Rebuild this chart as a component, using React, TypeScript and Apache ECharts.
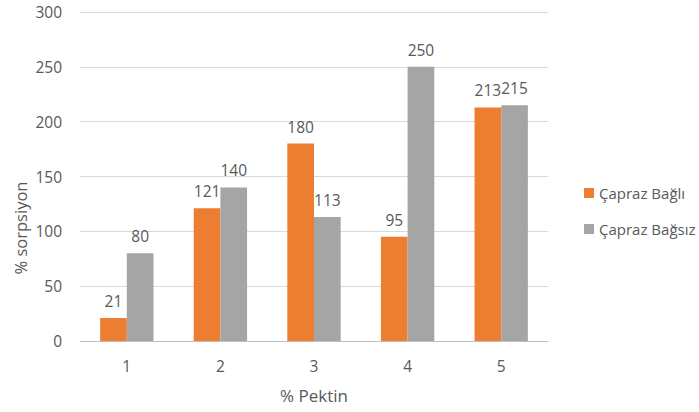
import React, { useEffect, useRef } from "react";
import * as echarts from "echarts";

const categories = ["1", "2", "3", "4", "5"];
const bagli = [21, 121, 180, 95, 213];
const bagsiz = [80, 140, 113, 250, 215];
const seriesNames = ["Çapraz Bağlı", "Çapraz Bağsız"];

const FONT = "'Open Sans', 'Noto Sans', sans-serif";
const TEXT = "#595959";

export default function App() {
  const ref = useRef<HTMLDivElement>(null);

  useEffect(() => {
    if (!ref.current) return;
    const chart = echarts.init(ref.current, undefined, { renderer: "svg" });
    const barLabel = {
      show: true,
      position: "top",
      distance: 9,
      color: TEXT,
      fontSize: 15.5,
      fontFamily: FONT,
    };
    chart.setOption({
      animation: false,
      backgroundColor: "#ffffff",
      textStyle: { fontFamily: FONT },
      grid: { left: 80, right: 151, top: 12, bottom: 71, containLabel: false },
      legend: {
        orient: "vertical",
        left: 579,
        top: 179,
        itemWidth: 10,
        itemHeight: 10,
        itemGap: 18,
        icon: "rect",
        textStyle: { color: TEXT, fontSize: 15, fontFamily: FONT, lineHeight: 18 },
        data: seriesNames,
      },
      xAxis: {
        type: "category",
        data: categories,
        axisLine: { lineStyle: { color: "#BFBFBF", width: 1 } },
        axisTick: { show: false },
        axisLabel: { color: TEXT, fontSize: 15.5, margin: 17, fontFamily: FONT },
      },
      yAxis: {
        type: "value",
        min: 0,
        max: 300,
        interval: 50,
        axisLine: { show: false },
        axisTick: { show: false },
        axisLabel: { color: TEXT, fontSize: 15.5, margin: 18, fontFamily: FONT },
        splitLine: { lineStyle: { color: "#D9D9D9", width: 1 } },
      },
      graphic: [
        {
          type: "text",
          x: 314,
          y: 395,
          style: {
            text: "% Pektin",
            x: 0,
            y: 0,
            fill: TEXT,
            font: `17px ${FONT}`,
            textAlign: "center",
            textVerticalAlign: "middle",
          },
        },
        {
          type: "text",
          x: 20,
          y: 228,
          rotation: Math.PI / 2,
          style: {
            text: "% sorpsiyon",
            x: 0,
            y: 0,
            fill: TEXT,
            font: `16.5px ${FONT}`,
            textAlign: "center",
            textVerticalAlign: "middle",
          },
        },
      ],
      series: [
        {
          name: seriesNames[0],
          type: "bar",
          data: bagli,
          barGap: "0%",
          barCategoryGap: "43%",
          itemStyle: { color: "#ED7D31" },
          label: barLabel,
        },
        {
          name: seriesNames[1],
          type: "bar",
          data: bagsiz,
          barGap: "0%",
          barCategoryGap: "43%",
          itemStyle: { color: "#A5A5A5" },
          label: barLabel,
        },
      ],
    });
    return () => chart.dispose();
  }, []);

  return (
    <div
      ref={ref}
      style={{ position: "fixed", left: 0, top: 0, width: 699, height: 412 }}
    />
  );
}
